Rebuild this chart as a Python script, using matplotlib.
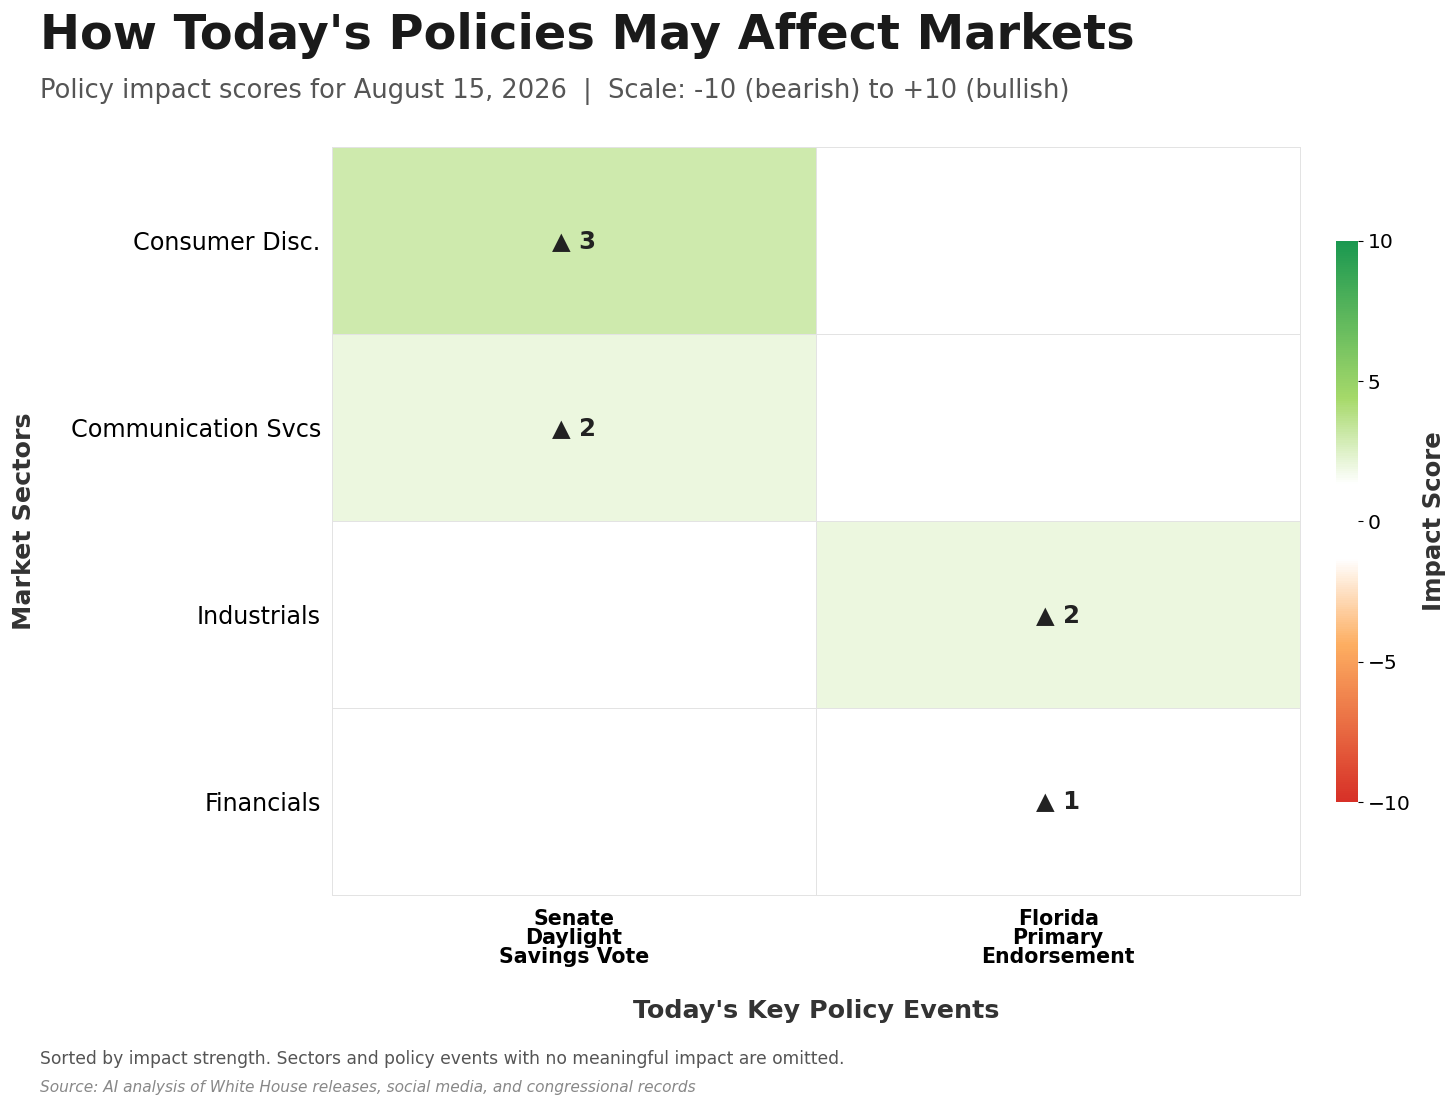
import numpy as np
import matplotlib
matplotlib.use("Agg")
import matplotlib.pyplot as plt
from matplotlib.colors import LinearSegmentedColormap, Normalize

# ---------------------------
# Data
# ---------------------------
sectors = ["Consumer Disc.", "Communication Svcs", "Industrials", "Financials"]
events = ["Senate\nDaylight\nSavings Vote", "Florida\nPrimary\nEndorsement"]
scores = [
    [3, 0],
    [2, 0],
    [0, 2],
    [0, 1],
]

title = "How Today's Policies May Affect Markets"
subtitle = "Policy impact scores for August 15, 2026  |  Scale: -10 (bearish) to +10 (bullish)"
note = "Sorted by impact strength. Sectors and policy events with no meaningful impact are omitted."
source = "Source: AI analysis of White House releases, social media, and congressional records"

plt.rcParams['font.family'] = ['DejaVu Sans']

# diverging map with a white band around zero
cmap = LinearSegmentedColormap.from_list("impact", [
    (0.0, "#d73027"),
    (0.28, "#fdae61"),
    (0.4325, "#ffffff"),
    (0.5675, "#ffffff"),
    (0.72, "#a6d96a"),
    (1.0, "#1a9850"),
])
norm = Normalize(vmin=-10, vmax=10)

data = np.array(scores, dtype=float)

fig = plt.figure(figsize=(14.56, 11.09), dpi=100)
ax = fig.add_axes([0.228, 0.193, 0.665, 0.674])

mesh = ax.pcolormesh(data, cmap=cmap, norm=norm, edgecolors="#e3e3e3", linewidth=0.7)
mesh.set_clip_on(False)
ax.set_xlim(0, data.shape[1])
ax.set_ylim(data.shape[0], 0)

for s in ax.spines.values():
    s.set_visible(False)

ax.set_xticks(np.arange(data.shape[1]) + 0.5)
ax.set_xticklabels(events, fontsize=14.8, fontweight="bold", linespacing=0.94)
ax.set_yticks(np.arange(data.shape[0]) + 0.5)
ax.set_yticklabels(sectors, fontsize=17.2)
ax.tick_params(length=0)
ax.tick_params(axis="y", pad=8)
ax.tick_params(axis="x", pad=10)

ax.set_xlabel("Today's Key Policy Events", fontsize=18.3, fontweight="bold", color="#333333", labelpad=23)
ax.set_ylabel("Market Sectors", fontsize=18.3, fontweight="bold", color="#333333", labelpad=25)

# annotations
for i in range(data.shape[0]):
    for j in range(data.shape[1]):
        v = data[i, j]
        if v == 0:
            continue
        arrow = "\u25B2" if v > 0 else "\u25BC"
        ax.text(j + 0.5, i + 0.5, f"{arrow} {int(abs(v))}", ha="center", va="center",
                fontsize=17.5, fontweight="bold", color="#222222")

# colorbar
cax = fig.add_axes([0.9176, 0.2768, 0.0151, 0.506])
cb = fig.colorbar(mesh, cax=cax, ticks=[-10, -5, 0, 5, 10])
cb.outline.set_visible(False)
cb.ax.tick_params(labelsize=14.6)
cb.set_label("Impact Score", fontsize=17.6, fontweight="bold", color="#333333", labelpad=8)

# titles and footer
fig.text(0.0275, 0.956, title, fontsize=34.5, fontweight="bold", color="#1a1a1a", va="baseline")
fig.text(0.0275, 0.912, subtitle, fontsize=18.5, color="#555555", va="baseline")
fig.text(0.0275, 0.045, note, fontsize=12.3, color="#555555", va="center")
fig.text(0.0275, 0.019, source, fontsize=11.1, color="#888888", style="italic", va="center")

fig.savefig("out.png", dpi=100, facecolor="white")
